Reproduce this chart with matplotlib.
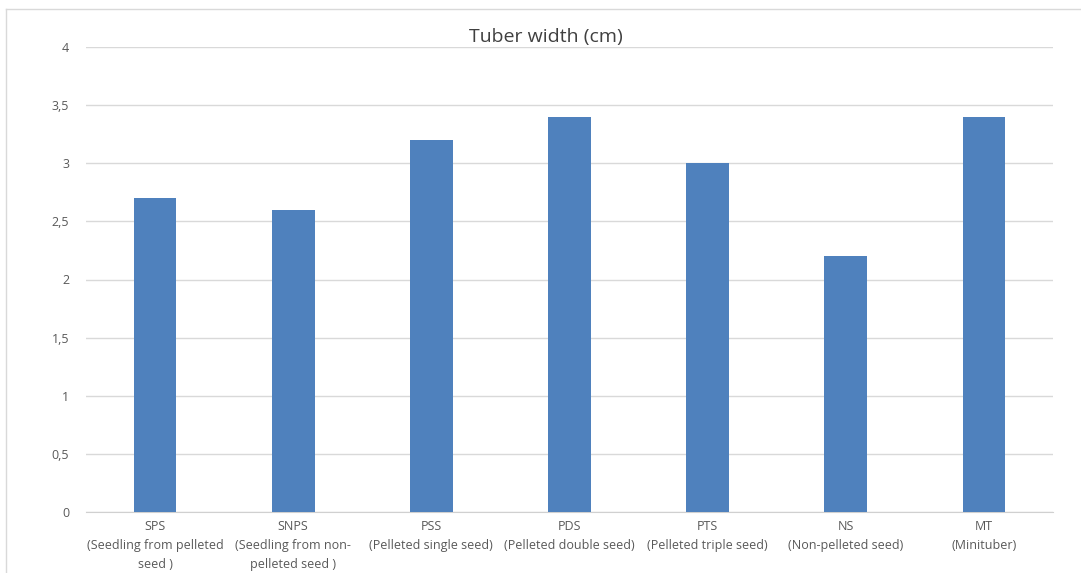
import matplotlib.pyplot as plt
from matplotlib.lines import Line2D
from matplotlib.ticker import FuncFormatter

categories = ['SPS\n(Seedling from pelleted\nseed )',
              'SNPS\n(Seedling from non-\npelleted seed )',
              'PSS\n(Pelleted single seed)',
              'PDS\n(Pelleted double seed)',
              'PTS\n(Pelleted triple seed)',
              'NS\n(Non-pelleted seed)',
              'MT\n(Minituber)']
widths = [2.7, 2.6, 3.2, 3.4, 3.0, 2.2, 3.4]
yticks = [0, 0.5, 1, 1.5, 2, 2.5, 3, 3.5, 4]

plt.rcParams['font.family'] = ['Open Sans', 'DejaVu Sans']

fig = plt.figure(figsize=(10.81, 5.73), dpi=100)
ax = fig.add_axes([86 / 1081, 1 - 512 / 573, (1053 - 86) / 1081, (512 - 47) / 573])

x = range(len(categories))
ax.bar(x, widths, width=0.31, color='#4F81BD', zorder=3)

ax.set_xlim(-0.5, len(categories) - 0.5)
ax.set_ylim(0, 4)
ax.set_yticks(yticks)
ax.yaxis.set_major_formatter(FuncFormatter(lambda v, p: ('%g' % v).replace('.', ',')))
ax.set_xticks(list(x))
ax.set_xticklabels(categories, linespacing=1.6)

ax.grid(axis='y', color='#D9D9D9', linewidth=1, zorder=0)
for s in ['top', 'right', 'left']:
    ax.spines[s].set_visible(False)
ax.spines['bottom'].set_color('#D0D0D0')
ax.tick_params(axis='both', length=0, labelsize=9, colors='#595959')
ax.tick_params(axis='y', pad=12)
ax.tick_params(axis='x', pad=6)

fig.text(546 / 1081, 1 - 37 / 573, 'Tuber width (cm)', ha='center', va='center',
         fontsize=14, color='#404040')

# chart border (top and left edges visible)
fig.add_artist(Line2D([6 / 1081, 1], [1 - 9 / 573, 1 - 9 / 573], color='#D9D9D9', linewidth=1))
fig.add_artist(Line2D([6 / 1081, 6 / 1081], [0, 1 - 9 / 573], color='#D9D9D9', linewidth=1))

fig.savefig('out.png', dpi=100)
